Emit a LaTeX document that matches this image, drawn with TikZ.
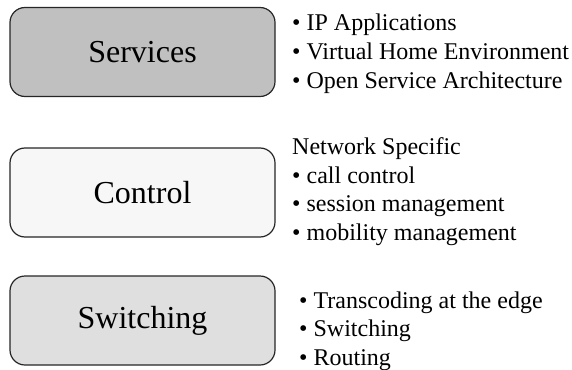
\documentclass[tikz,border=0pt]{standalone}
\usepackage{fontspec}
\setmainfont{Liberation Serif}
\usetikzlibrary{positioning}
\definecolor{servicesgray}{HTML}{C0C0C0}
\definecolor{controlgray}{HTML}{F7F7F7}
\definecolor{switchinggray}{HTML}{DFDFDF}
\tikzset{
  layer/.style={draw=black!85, line width=1.2pt, rounded corners=15pt,
    minimum width=265pt, minimum height=89pt, inner sep=0pt,
    font=\fontsize{32}{36}\selectfont},
  items/.style={align=left, inner sep=0pt, anchor=base west,
    font=\fontsize{24}{28.5}\selectfont}
}
\begin{document}
\begin{tikzpicture}[x=1pt,y=-1pt]
  \useasboundingbox (0,0) rectangle (572,369);
  % the three layers
  \node[layer, fill=servicesgray] (services) at (142.5,52) {Services};
  \node[layer, fill=controlgray] (control) at (142.5,192.5) {Control};
  \node[layer, fill=switchinggray] (switching) at (142.5,320.5) {Switching};
  % what each layer holds (anchored on the last line)
  \node[items] (servicesitems) at (292,88) {• IP Applications\\• Virtual Home Environment\\• Open Service Architecture};
  \node[items] (controlitems) at (292,240) {Network Specific\\• call control\\• session management\\• mobility management};
  \node[items] (switchingitems) at (299,365) {• Transcoding at the edge\\• Switching\\• Routing};
\end{tikzpicture}
\end{document}
